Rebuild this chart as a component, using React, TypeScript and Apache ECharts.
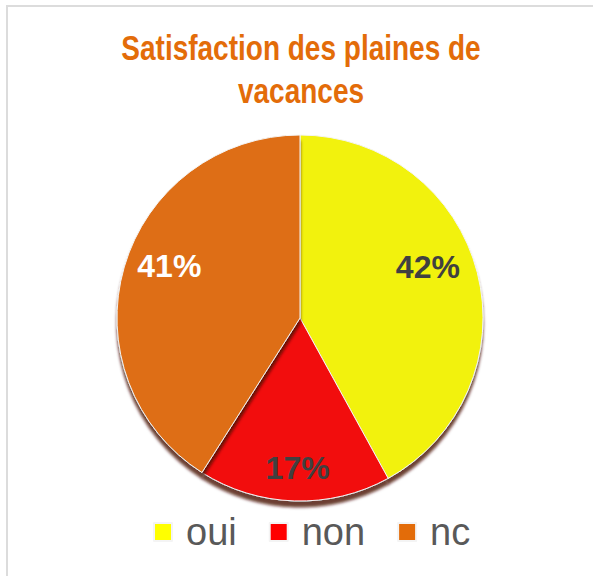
import React, { useEffect, useRef } from "react";
import * as echarts from "echarts";

const categories = ["oui", "non", "nc"];
const values = [42, 17, 41];
const sliceColors = ["#F2F20A", "#F20A0A", "#DE6E14"];
const legendColors = ["#FFFF00", "#FF0000", "#E36C09"];
const labelColors = ["#404040", "#404040", "#FFFFFF"];
const titleLines = ["Satisfaction des plaines de", "vacances"];

const labelShift = [
  [-8, -16],
  [2, 10],
  [4, -13],
];

export default function App() {
  const ref = useRef<HTMLDivElement>(null);
  useEffect(() => {
    if (!ref.current) return;
    const chart = echarts.init(ref.current, null, { renderer: "svg" });
    const R = 183;
    const center = [300, 318];
    const titleFont = {
      fontFamily: "Liberation Sans, Arial, sans-serif",
      fontWeight: "bold" as const,
      fontSize: 28,
      fill: "#E36C09",
      textAlign: "center" as const,
      textVerticalAlign: "middle" as const,
    };
    chart.setOption({
      animation: false,
      backgroundColor: "#ffffff",
      legend: {
        left: 153,
        top: 513,
        padding: 0,
        itemWidth: 18,
        itemHeight: 18,
        itemGap: 32,
        icon: "rect",
        data: categories.map((c, i) => ({
          name: c,
          itemStyle: { color: legendColors[i] },
        })),
        textStyle: {
          fontFamily: "Liberation Sans, sans-serif",
          fontSize: 38,
          lineHeight: 38,
          color: "#595959",
          padding: [0, 0, 0, 9],
        },
        selectedMode: false,
      },
      graphic: [
        { type: "rect", shape: { x: 6, y: 5, width: 2, height: 571 }, style: { fill: "#dcdcdc" }, silent: true },
        { type: "rect", shape: { x: 6, y: 5, width: 587, height: 2 }, style: { fill: "#dcdcdc" }, silent: true },
        {
          type: "text",
          x: 301,
          y: 48,
          scaleY: 1.25,
          silent: true,
          style: { text: titleLines[0], ...titleFont },
        },
        {
          type: "text",
          x: 301,
          y: 91,
          scaleY: 1.25,
          silent: true,
          style: { text: titleLines[1], ...titleFont },
        },
      ],
      series: [
        {
          type: "pie",
          center,
          radius: R,
          startAngle: 90,
          clockwise: true,
          avoidLabelOverlap: false,
          label: { show: false },
          labelLine: { show: false },
          emphasis: { disabled: true },
          itemStyle: {
            borderColor: "#f4f4f4",
            borderWidth: 1,
            shadowBlur: 3,
            shadowOffsetY: 6,
            shadowColor: "rgba(70,10,0,0.8)",
          },
          data: categories.map((c, i) => ({
            name: c,
            value: values[i],
            itemStyle: { color: sliceColors[i] },
          })),
        },
        {
          type: "pie",
          center,
          radius: [R / 2, R],
          startAngle: 90,
          clockwise: true,
          silent: true,
          avoidLabelOverlap: false,
          emphasis: { disabled: true },
          itemStyle: { color: "rgba(0,0,0,0)", borderWidth: 0 },
          labelLine: { show: false },
          label: {
            show: true,
            position: "inside",
            formatter: (p: any) => p.value + "%",
            fontFamily: "Liberation Sans, sans-serif",
            fontWeight: "bold",
            fontSize: 32,
          },
          labelLayout: (p: any) => ({
            dx: labelShift[p.dataIndex][0],
            dy: labelShift[p.dataIndex][1],
          }),
          data: categories.map((c, i) => ({
            name: c,
            value: values[i],
            label: { color: labelColors[i] },
          })),
        },
      ],
    });
    return () => chart.dispose();
  }, []);
  return (
    <div
      ref={ref}
      style={{ position: "absolute", left: 0, top: 0, width: 593, height: 576 }}
    />
  );
}
